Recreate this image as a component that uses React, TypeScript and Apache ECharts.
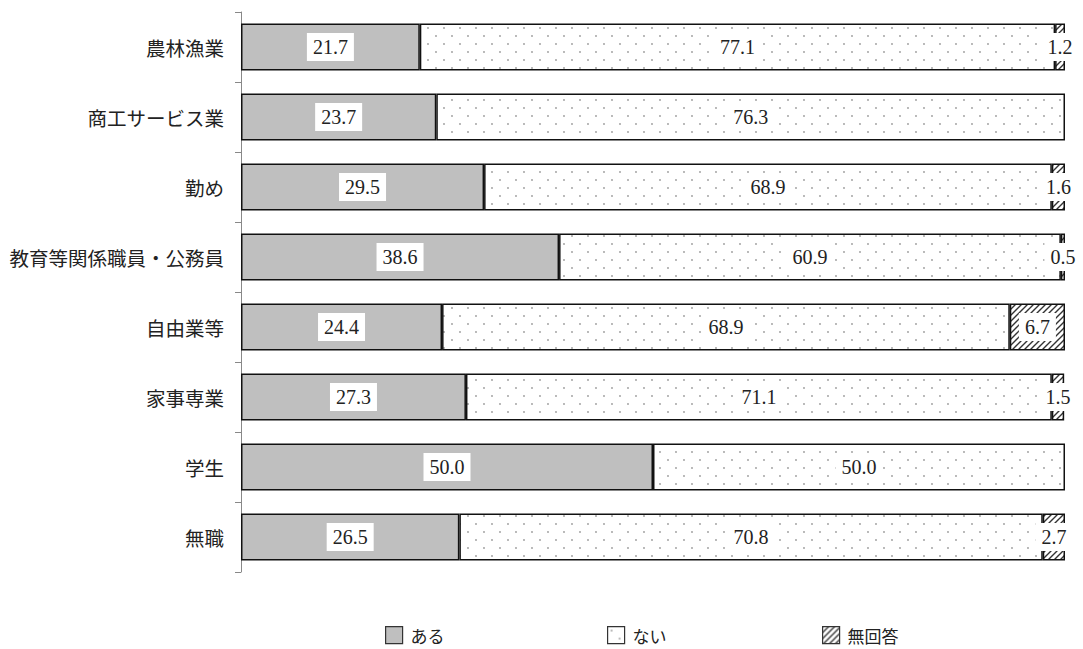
import React, { useEffect, useRef } from "react";
import * as echarts from "echarts";

const categories = [
  "農林漁業",
  "商工サービス業",
  "勤め",
  "教育等関係職員・公務員",
  "自由業等",
  "家事専業",
  "学生",
  "無職",
];
const seriesNames = ["ある", "ない", "無回答"];
const aruValues = [21.7, 23.7, 29.5, 38.6, 24.4, 27.3, 50.0, 26.5];
const naiValues = [77.1, 76.3, 68.9, 60.9, 68.9, 71.1, 50.0, 70.8];
const noAnswerValues = [1.2, 0, 1.6, 0.5, 6.7, 1.5, 0, 2.7];

const svgUrl = (svg: string) => "data:image/svg+xml;charset=utf-8," + encodeURIComponent(svg);

// staggered grey dots on white
const dotPattern = {
  image: svgUrl(
    "<svg xmlns='http://www.w3.org/2000/svg' width='16' height='16'>" +
      "<rect width='16' height='16' fill='#ffffff'/>" +
      "<circle cx='4' cy='4' r='0.9' fill='#9a9a9a'/>" +
      "<circle cx='12' cy='12' r='0.9' fill='#9a9a9a'/>" +
      "</svg>"
  ),
  imageWidth: 16,
  imageHeight: 16,
  repeat: "repeat",
};

// diagonal hatching
const hatchPattern = {
  image: svgUrl(
    "<svg xmlns='http://www.w3.org/2000/svg' width='6' height='6'>" +
      "<rect width='6' height='6' fill='#ffffff'/>" +
      "<path d='M-1,7 L7,-1 M-1,1 L1,-1 M5,7 L7,5' stroke='#333333' stroke-width='1.4'/>" +
      "</svg>"
  ),
  imageWidth: 6,
  imageHeight: 6,
  repeat: "repeat",
};

const fills: any[] = ["#bfbfbf", dotPattern, hatchPattern];
const valueSets = [aruValues, naiValues, noAnswerValues];

const CJK = '"Noto Sans CJK JP", sans-serif';

export default function App() {
  const ref = useRef<HTMLDivElement>(null);

  useEffect(() => {
    if (!ref.current) return;
    const chart = echarts.init(ref.current, undefined, { renderer: "svg" });

    const series = seriesNames.map((name, si) => ({
      name,
      type: "bar",
      stack: "total",
      barWidth: 47,
      itemStyle: { color: fills[si], borderColor: "#111", borderWidth: 1.5 },
      label: {
        show: true,
        position: "inside",
        formatter: (p: any) => Number(p.value).toFixed(1),
        fontFamily: '"Liberation Serif", serif',
        fontSize: 20,
        lineHeight: 20,
        color: "#222",
        backgroundColor: "#ffffff",
        padding: [4, 6],
      },
      data: valueSets[si].map((v) =>
        v === 0 ? { value: v, label: { show: false }, itemStyle: { borderWidth: 0 } } : v
      ),
    }));

    const legendLefts = [385, 607, 822];
    const legends = seriesNames.map((name, i) => ({
      data: [name],
      left: legendLefts[i],
      top: 626,
      padding: 0,
      itemWidth: 17,
      itemHeight: 17,
      itemGap: 8,
      icon: "rect",
      selectedMode: false,
      itemStyle: { borderColor: "#333", borderWidth: 1.2 },
      textStyle: { fontFamily: CJK, fontSize: 17, color: "#222", padding: [0, 0, 0, 3] },
    }));

    chart.setOption({
      animation: false,
      backgroundColor: "#ffffff",
      grid: { left: 241, right: 18, top: 12, bottom: 77, containLabel: false },
      legend: legends,
      xAxis: {
        type: "value",
        min: 0,
        max: 100,
        show: false,
      },
      yAxis: {
        type: "category",
        inverse: true,
        data: categories,
        axisLine: { show: true, lineStyle: { color: "#888", width: 1 } },
        axisTick: { show: true, length: 6, lineStyle: { color: "#888" } },
        axisLabel: { fontFamily: CJK, fontSize: 19.5, color: "#222", margin: 17 },
      },
      series,
    });

    return () => chart.dispose();
  }, []);

  return <div ref={ref} style={{ width: 1083, height: 649, position: "absolute", left: 0, top: 0 }} />;
}
